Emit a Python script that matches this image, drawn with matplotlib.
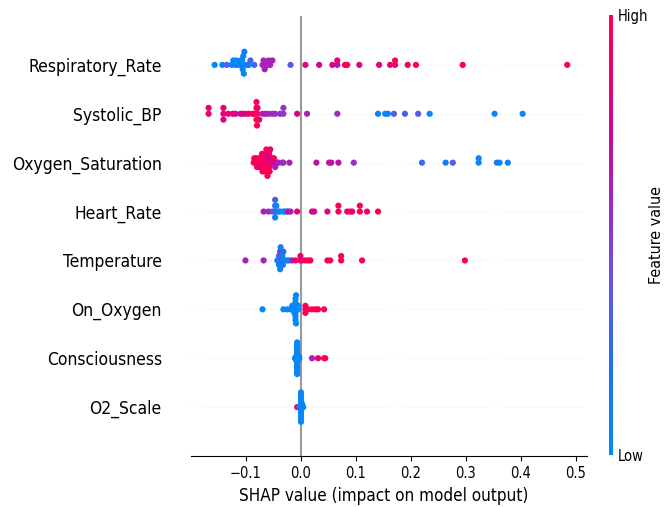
import numpy as np
import matplotlib
matplotlib.use("Agg")
import matplotlib.pyplot as plt
from matplotlib import font_manager
from matplotlib.colors import LinearSegmentedColormap

# features, top to bottom
features = ["Respiratory_Rate", "Systolic_BP", "Oxygen_Saturation", "Heart_Rate",
            "Temperature", "On_Oxygen", "Consciousness", "O2_Scale"]

# shap values and (scaled) feature values for each feature
rr_shap = [-0.157, -0.143, -0.135, -0.126, -0.123, -0.119, -0.118, -0.114, -0.110, -0.108,
           -0.107, -0.106, -0.105, -0.104, -0.103, -0.099, -0.095, -0.092, -0.085, -0.070,
           -0.068, -0.066, -0.061, -0.059, -0.056, -0.052, -0.019, 0.008, 0.033, 0.057,
           0.066, 0.066, 0.080, 0.084, 0.106, 0.142, 0.162, 0.171, 0.171, 0.194, 0.209,
           0.294, 0.484]
rr_feat = [0.05, 0.1, 0.35, 0.1, 0.05, 0.1, 0.0, 0.1, 0.05, 0.1,
           0.0, 0.05, 0.1, 0.0, 0.1, 0.05, 0.1, 0.3, 0.3, 0.6,
           0.6, 0.62, 0.58, 0.6, 0.6, 0.62, 0.35, 0.8, 0.75, 0.8,
           0.65, 0.85, 0.95, 0.95, 0.8, 0.85, 0.85, 0.95, 1.0, 1.0, 0.95,
           1.0, 1.0]

sbp_shap = [-0.168, -0.168, -0.141, -0.141, -0.141, -0.132, -0.124, -0.119, -0.110, -0.106,
            -0.101, -0.095, -0.088, -0.085, -0.081, -0.081, -0.081, -0.080, -0.079, -0.079,
            -0.076, -0.070, -0.065, -0.059, -0.052, -0.047, -0.038, -0.032, -0.032, -0.007,
            0.011, 0.066, 0.140, 0.153, 0.158, 0.169, 0.189, 0.213, 0.234, 0.352, 0.403]
sbp_feat = [0.85, 0.9, 0.85, 0.9, 0.8, 0.9, 0.85, 0.8, 0.7, 0.85,
            0.8, 0.85, 1.0, 0.95, 1.0, 1.0, 0.95, 1.0, 1.0, 0.9,
            0.9, 0.6, 0.65, 0.6, 0.6, 0.55, 0.55, 0.5, 0.55, 0.8,
            0.6, 0.55, 0.1, 0.05, 0.1, 0.35, 0.3, 0.35, 0.05, 0.05, 0.05]

os_shap = [-0.086, -0.085, -0.083, -0.081, -0.080, -0.077, -0.076, -0.076, -0.072, -0.072,
           -0.072, -0.071, -0.070, -0.068, -0.067, -0.067, -0.065, -0.065, -0.065, -0.065,
           -0.064, -0.063, -0.061, -0.060, -0.058, -0.058, -0.058, -0.057, -0.056, -0.054,
           -0.052, -0.050, -0.049, -0.047, -0.043, -0.041, -0.034, -0.032, -0.021, 0.028,
           0.051, 0.055, 0.068, 0.096, 0.220, 0.263, 0.276, 0.323, 0.323, 0.356, 0.361,
           0.376]
os_feat = [0.95, 1.0, 1.0, 0.9, 1.0, 1.0, 0.95, 0.85, 0.85, 1.0,
           0.95, 1.0, 1.0, 0.95, 1.0, 0.9, 0.9, 1.0, 0.95, 0.8,
           1.0, 1.0, 0.95, 0.85, 0.8, 1.0, 0.9, 0.95, 0.9, 0.95,
           0.75, 0.7, 0.95, 0.65, 0.7, 0.6, 0.6, 0.55, 0.6, 0.7,
           0.65, 0.7, 0.7, 0.55, 0.25, 0.1, 0.35, 0.05, 0.05, 0.05, 0.1,
           0.05]

hr_shap = [-0.068, -0.059, -0.052, -0.048, -0.047, -0.047, -0.047, -0.045, -0.045, -0.041,
           -0.038, -0.032, -0.029, -0.025, -0.023, -0.019, -0.007, 0.020, 0.024, 0.048,
           0.068, 0.068, 0.084, 0.089, 0.093, 0.107, 0.107, 0.120, 0.140]
hr_feat = [0.6, 0.6, 0.4, 0.3, 0.35, 0.1, 0.3, 0.25, 0.05, 0.1,
           0.05, 0.05, 0.0, 0.1, 0.8, 0.6, 0.85, 0.8, 0.75, 0.85,
           0.95, 1.0, 0.8, 1.0, 0.9, 1.0, 0.95, 0.85, 1.0]

temp_shap = [-0.101, -0.068, -0.043, -0.040, -0.040, -0.039, -0.039, -0.039, -0.038, -0.038,
             -0.037, -0.034, -0.034, -0.033, -0.032, -0.029, -0.025, -0.021, -0.016, -0.010,
             -0.001, -0.001, 0.002, 0.008, 0.013, 0.017, 0.048, 0.053, 0.073, 0.073, 0.111,
             0.298]
temp_feat = [0.6, 0.6, 0.15, 0.1, 0.05, 0.05, 0.35, 0.1, 0.5, 0.05,
             0.1, 0.35, 0.05, 0.1, 0.2, 0.05, 0.1, 0.05, 0.6, 0.95,
             1.0, 0.9, 0.85, 0.9, 1.0, 0.95, 0.9, 1.0, 1.0, 0.95, 1.0,
             1.0]

oxy_shap = [-0.070, -0.032, -0.025, -0.019, -0.016, -0.016, -0.012, -0.012, -0.012, -0.010,
            -0.010, -0.010, -0.010, -0.010, -0.010, -0.010, -0.009, -0.009, -0.005, -0.005,
            0.008, 0.008, 0.008, 0.013, 0.020, 0.026, 0.031, 0.042]
oxy_feat = [0.05, 0.05, 0.05, 0.05, 0.05, 0.0, 0.0, 0.05, 0.0, 0.0,
            0.05, 0.0, 0.0, 0.05, 0.0, 0.0, 0.05, 0.0, 0.0, 0.05,
            1.0, 1.0, 1.0, 1.0, 1.0, 1.0, 1.0, 1.0]

cons_shap = [-0.011, -0.009, -0.009, -0.009, -0.007, -0.007, -0.007, -0.007, -0.007, -0.007,
             -0.007, -0.007, -0.007, -0.007, -0.007, -0.007, -0.007, -0.007, -0.007, -0.007,
             -0.007, -0.007, -0.007, -0.005, -0.005, -0.005, -0.004, -0.004, -0.003, 0.020,
             0.031, 0.042, 0.044]
cons_feat = [0.05] * 29 + [0.6, 0.85, 1.0, 1.0]

o2_shap = [-0.007, -0.003, -0.001, 0.000, 0.000, 0.000, 0.000, 0.000, 0.000, 0.000,
           0.000, 0.000, 0.000, 0.000, 0.001, 0.002, 0.002, 0.003, 0.004]
o2_feat = [1.0] + [0.05] * 18

shap_vals = [rr_shap, sbp_shap, os_shap, hr_shap, temp_shap, oxy_shap, cons_shap, o2_shap]
feat_vals = [rr_feat, sbp_feat, os_feat, hr_feat, temp_feat, oxy_feat, cons_feat, o2_feat]

xticks = [-0.1, 0.0, 0.1, 0.2, 0.3, 0.4, 0.5]

# shap-like red/blue colormap
cmap = LinearSegmentedColormap.from_list("red_blue", [
    (0.0, (0.0, 0.545, 0.984)),
    (0.2, (0.12, 0.45, 0.95)),
    (0.4, (0.42, 0.33, 0.86)),
    (0.55, (0.60, 0.18, 0.76)),
    (0.7, (0.76, 0.05, 0.64)),
    (0.85, (0.9, 0.0, 0.48)),
    (1.0, (1.0, 0.0, 0.318)),
])

# the reference text looks horizontally squeezed -> prefer a condensed face
cond = font_manager.FontProperties(family="DejaVu Sans", stretch="condensed")
if "Condensed" in font_manager.findfont(cond):
    stretch, k = "condensed", 0.96
else:
    stretch, k = "normal", 0.86
plt.rcParams["font.family"] = "DejaVu Sans"
plt.rcParams["font.stretch"] = stretch


def swarm(vals, row_height=0.4, nbins=100):
    # same stacking rule as shap's beeswarm
    vals = np.asarray(vals, dtype=float)
    quant = np.round(nbins * (vals - vals.min()) / (vals.max() - vals.min() + 1e-8))
    inds = np.argsort(quant, kind="stable")
    ys = np.zeros(len(vals))
    layer, last = 0, -1
    for i in inds:
        if quant[i] != last:
            layer = 0
        ys[i] = np.ceil(layer / 2) * ((layer % 2) * 2 - 1)
        layer += 1
        last = quant[i]
    ys *= 0.9 * (row_height / np.max(ys + 1))
    return ys


fig = plt.figure(figsize=(6.64, 5.07), dpi=100)
ax = fig.add_axes([191 / 664, 51 / 507, 396 / 664, 440 / 507])

n = len(features)
for j, name in enumerate(features):
    pos = n - 1 - j
    ax.axhline(pos, color="#cccccc", lw=0.5, dashes=(1, 5), zorder=-1)
    ys = swarm(shap_vals[j])
    ax.scatter(shap_vals[j], pos + ys, c=feat_vals[j], cmap=cmap, vmin=0, vmax=1,
               s=20, linewidth=0, zorder=3, rasterized=True)

ax.axvline(0, color="#999999", zorder=-1)
ax.set_xlim(-0.2, 0.52)
ax.set_ylim(-1, n)
ax.set_yticks(range(n))
ax.set_yticklabels(features[::-1], fontsize=13 * k)
ax.tick_params("y", length=0, pad=21)
ax.set_xticks(xticks)
ax.set_xticklabels([f"{t:.1f}".replace("-", "\u2212") for t in xticks])
ax.tick_params("x", labelsize=11 * k)
ax.set_xlabel("SHAP value (impact on model output)", fontsize=13 * k * 0.98)
ax.xaxis.set_label_coords(0.487, -0.071)
for s in ["top", "right", "left"]:
    ax.spines[s].set_visible(False)

cax = fig.add_axes([609 / 664, 52 / 507, 4 / 664, 440 / 507])
sm = plt.cm.ScalarMappable(cmap=cmap, norm=plt.Normalize(0, 1))
cb = fig.colorbar(sm, cax=cax, ticks=[0, 1])
cb.set_ticklabels(["Low", "High"])
cb.ax.tick_params(labelsize=11 * k, length=0)
cb.outline.set_visible(False)
cb.set_label("Feature value", size=12 * k, va="top")
cb.ax.yaxis.set_label_coords(10.0, 0.5)

fig.savefig("out.png", dpi=100)
